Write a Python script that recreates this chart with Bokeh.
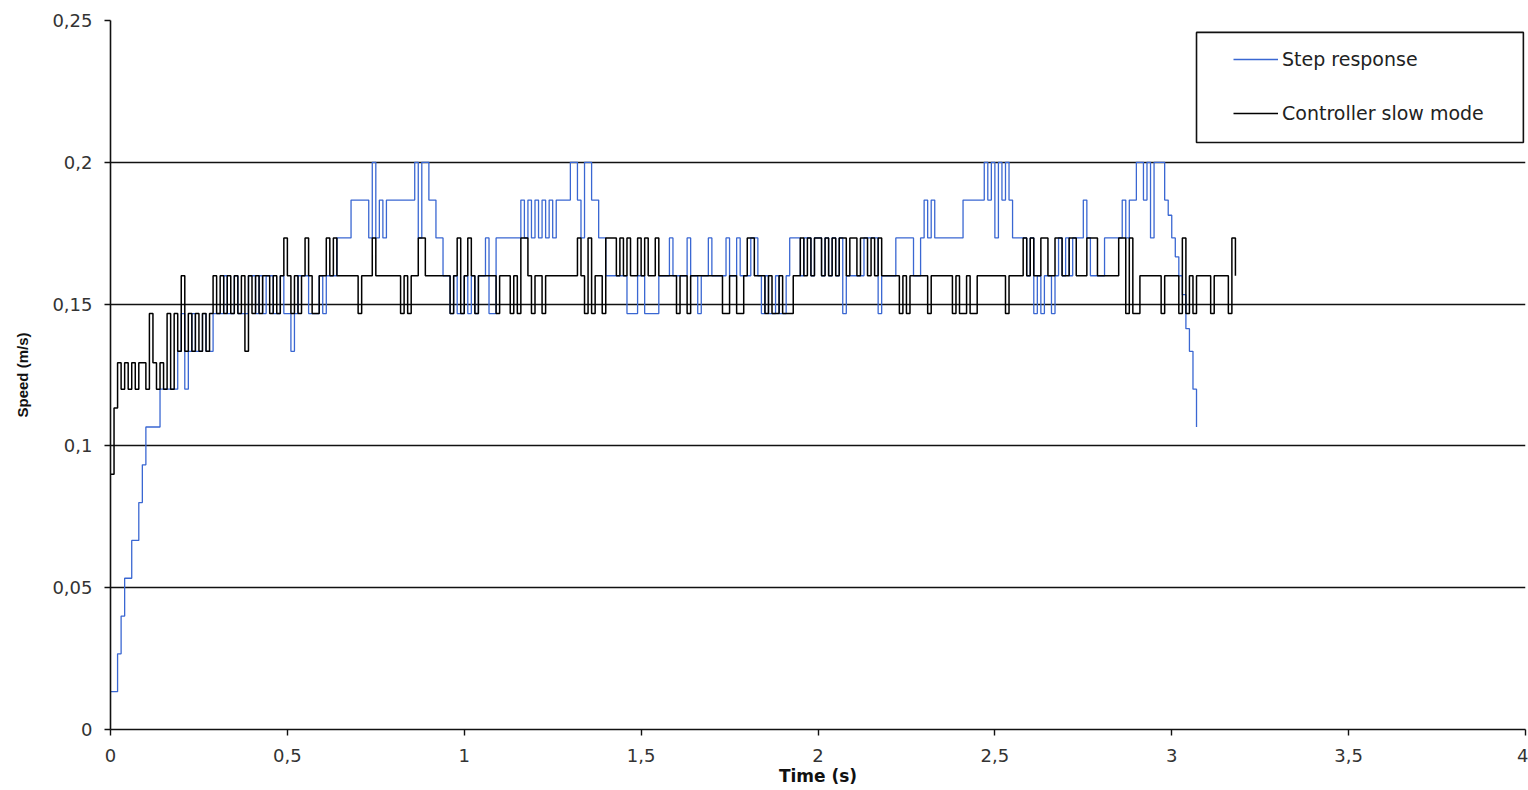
from bokeh.plotting import figure
from bokeh.models import Range1d, FixedTicker, Legend, LegendItem, BoxAnnotation
from bokeh.embed import file_html
from bokeh.resources import INLINE

# sampling period of the logged data (s) and encoder resolution (m/s per count)
SAMPLE_PERIOD = 0.01
SPEED_PER_COUNT = 1 / 75

# "Step response" speed, in encoder counts, one value per sample
step_counts = [
    1, 1, 2, 3, 4, 4, 5, 5, 6, 7,
    8, 8, 8, 8, 9, 9, 9, 9, 9, 10,
    11, 9, 10, 11, 10, 10, 11, 10, 10, 11,
    11, 11, 12, 11, 11, 12, 11, 11, 11, 12,
    12, 11, 12, 11, 12, 12, 11, 11, 12, 11,
    11, 10, 11, 12, 12, 12, 11, 11, 11, 12,
    11, 12, 12, 12, 13, 13, 13, 13, 14, 14,
    14, 14, 14, 13, 15, 13, 14, 13, 14, 14,
    14, 14, 14, 14, 14, 14, 15, 13, 15, 15,
    14, 14, 13, 13, 12, 12, 11, 12, 11, 11,
    12, 11, 12, 11, 12, 12, 13, 11, 11, 13,
    13, 13, 13, 13, 13, 13, 14, 13, 14, 13,
    14, 13, 14, 13, 14, 13, 14, 14, 14, 14,
    15, 15, 14, 13, 15, 15, 14, 14, 13, 13,
    12, 12, 12, 12, 12, 12, 11, 11, 11, 12,
    12, 11, 11, 11, 11, 12, 12, 12, 13, 12,
    12, 12, 12, 13, 12, 12, 11, 12, 12, 13,
    12, 12, 12, 12, 13, 12, 12, 13, 12, 12,
    12, 13, 13, 12, 11, 12, 11, 11, 12, 11,
    11, 12, 13, 13, 13, 12, 13, 13, 12, 13,
    13, 12, 13, 12, 13, 12, 13, 11, 12, 12,
    12, 12, 12, 13, 13, 13, 13, 11, 12, 12,
    12, 12, 13, 13, 13, 13, 13, 12, 12, 13,
    14, 13, 14, 13, 13, 13, 13, 13, 13, 13,
    13, 14, 14, 14, 14, 14, 14, 15, 14, 15,
    13, 15, 14, 15, 14, 13, 13, 13, 13, 12,
    13, 11, 12, 11, 12, 12, 11, 12, 13, 12,
    13, 12, 13, 13, 13, 14, 13, 12, 12, 12,
    12, 13, 13, 13, 13, 13, 14, 13, 14, 14,
    15, 15, 14, 15, 13, 15, 15, 15, 14, 13.6,
    13, 12.5, 12, 11.5, 10.6, 10, 9, 8,
]

# "Controller slow mode" speed, in encoder counts, one value per sample
slow_counts = [
    6.75, 8.5, 9.7, 9, 9.7, 9, 9.7, 9, 9.7, 9.7,
    9, 11, 9.7, 9, 9.7, 9, 11, 9, 11, 10,
    12, 10, 11, 10, 11, 10, 11, 10, 11, 12,
    11, 12, 11, 12, 11, 12, 11, 12, 10, 12,
    11, 12, 11, 12, 12, 11, 12, 11, 12, 13,
    12, 11, 12, 11, 12, 13, 12, 11, 11, 12,
    12, 13, 12, 13, 12, 12, 12, 12, 12, 12,
    11, 12, 12, 12, 13, 12, 12, 12, 12, 12,
    12, 12, 11, 12, 11, 12, 12, 13, 13, 12,
    12, 12, 12, 12, 12, 12, 11, 12, 13, 11,
    12, 13, 12, 11, 12, 12, 12, 12, 12, 11,
    12, 12, 12, 11, 12, 11, 13, 13, 12, 11,
    12, 12, 11, 12, 12, 12, 12, 12, 12, 12,
    12, 12, 13, 12, 11, 13, 11, 12, 12, 11,
    13, 13, 13, 12, 13, 12, 13, 12, 12, 13,
    12, 13, 12, 12, 13, 12, 12, 12, 12, 12,
    11, 12, 12, 11, 12, 12, 12, 12, 12, 12,
    12, 12, 12, 11, 11, 12, 12, 11, 11, 12,
    13, 13, 12, 12, 12, 11, 12, 11, 11, 12,
    11, 11, 11, 12, 12, 13, 12, 13, 12, 13,
    13, 12, 13, 12, 13, 12, 13, 13, 12, 13,
    13, 12, 13, 13, 12, 13, 12, 13, 12, 12,
    12, 12, 12, 11, 12, 11, 12, 12, 12, 12,
    12, 11, 12, 12, 12, 12, 12, 12, 11, 12,
    11, 11, 12, 11, 11, 12, 12, 12, 12, 12,
    12, 12, 12, 11, 12, 12, 12, 12, 13, 12,
    13, 12, 12, 13, 13, 12, 12, 13, 13, 12,
    12, 13, 13, 12, 12, 12, 13, 13, 13, 12,
    12, 12, 12, 12, 12, 13, 13, 11, 13, 11,
    11, 12, 12, 12, 12, 12, 12, 11, 12, 12,
    12, 12, 11, 13, 11, 12, 11, 12, 12, 12,
    12, 11, 12, 12, 12, 12, 11, 13, 12,
]

series_names = ["Step response", "Controller slow mode"]
series_colors = ["#3a67d2", "#000000"]

x_ticks = [0, 0.5, 1, 1.5, 2, 2.5, 3, 3.5, 4]
x_tick_labels = ["0", "0,5", "1", "1,5", "2", "2,5", "3", "3,5", "4"]
y_ticks = [0, 0.05, 0.1, 0.15, 0.2, 0.25]
y_tick_labels = ["0", "0,05", "0,1", "0,15", "0,2", "0,25"]

step_time = [i * SAMPLE_PERIOD for i in range(len(step_counts))]
step_speed = [c * SPEED_PER_COUNT for c in step_counts]
slow_time = [i * SAMPLE_PERIOD for i in range(len(slow_counts))]
slow_speed = [c * SPEED_PER_COUNT for c in slow_counts]

p = figure(
    width=1528, height=790,
    x_range=Range1d(0, 4), y_range=Range1d(0, 0.25),
    output_backend="svg", toolbar_location=None,
    min_border_left=110, min_border_right=3,
    min_border_top=20, min_border_bottom=61,
)
p.outline_line_color = None
p.background_fill_color = "white"
p.border_fill_color = "white"

p.xgrid.visible = False
p.ygrid.ticker = FixedTicker(ticks=y_ticks)
p.ygrid.grid_line_color = "#111111"
p.ygrid.grid_line_width = 1.4

TICK_FONT = "DejaVu Sans"
for ax, ticks, labels in ((p.xaxis[0], x_ticks, x_tick_labels), (p.yaxis[0], y_ticks, y_tick_labels)):
    ax.ticker = FixedTicker(ticks=ticks)
    ax.major_label_overrides = dict(zip(ticks, labels))
    ax.axis_line_color = "#111111"
    ax.axis_line_width = 1.6
    ax.major_tick_line_color = "#111111"
    ax.major_tick_line_width = 1.4
    ax.major_tick_in = 0
    ax.major_tick_out = 6
    ax.minor_tick_line_color = None
    ax.major_label_text_font = TICK_FONT
    ax.major_label_text_font_size = "18px"
    ax.major_label_text_color = "#333333"
    ax.axis_label_text_font_style = "bold"
    ax.axis_label_text_color = "#111111"

p.xaxis.axis_label = "Time (s)"
p.xaxis.axis_label_text_font = "DejaVu Sans"
p.xaxis.axis_label_text_font_size = "17px"
p.xaxis.major_label_standoff = 13
p.xaxis.axis_label_standoff = 1

p.yaxis.axis_label = "Speed (m/s)"
p.yaxis.axis_label_text_font = "Liberation Sans"
p.yaxis.axis_label_text_font_size = "15px"
p.yaxis.major_label_standoff = 12
p.yaxis.axis_label_standoff = 18

r_step = p.step(step_time, step_speed, mode="after",
                line_color=series_colors[0], line_width=1.3)
r_slow = p.step(slow_time, slow_speed, mode="after",
                line_color=series_colors[1], line_width=1.5)

legend = Legend(
    items=[LegendItem(label=series_names[0], renderers=[r_step]),
           LegendItem(label=series_names[1], renderers=[r_slow])],
    location=(1105, 587),
    padding=18, spacing=32, label_height=22, glyph_height=22,
    glyph_width=45, label_standoff=4, margin=0,
    border_line_alpha=0, background_fill_alpha=0,
    label_text_font="DejaVu Sans", label_text_font_size="19px",
    label_text_color="#222222",
)
p.add_layout(legend)

legend_frame = BoxAnnotation(left=3.070, right=3.994, top=0.2458, bottom=0.207,
                             fill_alpha=0, line_color="#111111", line_width=1.6,
                             line_alpha=1)
p.add_layout(legend_frame)

open("out.html", "w").write(file_html(p, INLINE))
